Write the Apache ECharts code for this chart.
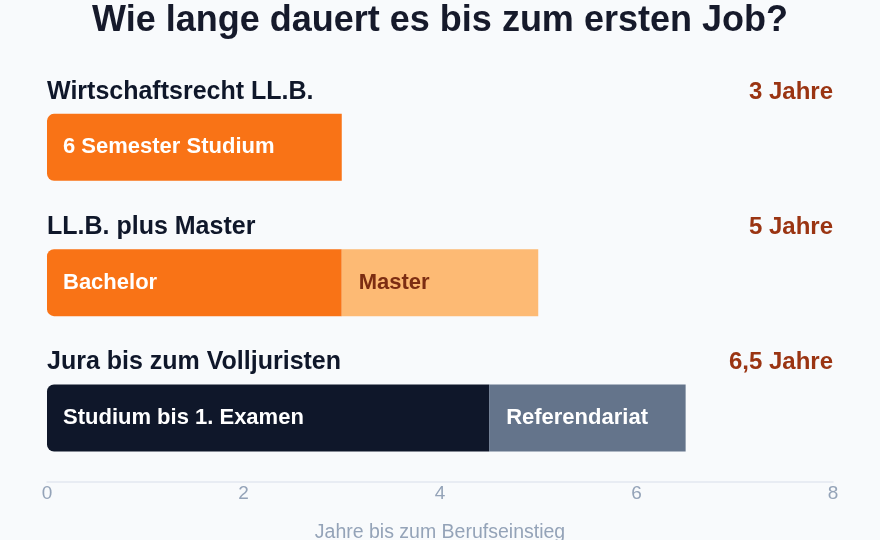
<!DOCTYPE html>
<html>
<head>
<meta charset="utf-8">
<style>
html,body{margin:0;padding:0;background:#f8fafc;}
#c{width:880px;height:540px;}
</style>
<script src="https://cdn.jsdelivr.net/npm/echarts@6/dist/echarts.min.js"></script>
</head>
<body>
<div id="c"></div>
<script>
const categories = ['Wirtschaftsrecht LL.B.', 'LL.B. plus Master', 'Jura bis zum Volljuristen'];
const totals = ['3 Jahre', '5 Jahre', '6,5 Jahre'];
const phase1 = [3, 3, 4.5];
const phase2 = [null, 2, 2];
const phase1Labels = ['6 Semester Studium', 'Bachelor', 'Studium bis 1. Examen'];
const phase2Labels = ['', 'Master', 'Referendariat'];
const xTicks = [0, 2, 4, 6, 8];

const phase1Colors = ['#f97316', '#f97316', '#0f172a'];
const phase2Colors = ['#fdba74', '#fdba74', '#64748b'];
const phase2LabelColors = ['#7c2d12', '#7c2d12', '#ffffff'];

const chart = echarts.init(document.getElementById('c'));
const font = 'Liberation Sans, Arial, sans-serif';

chart.setOption({
  backgroundColor: '#f8fafc',
  animation: false,
  title: {
    text: 'Wie lange dauert es bis zum ersten Job?',
    left: 'center',
    top: -1.5,
    textStyle: {fontFamily: font, fontSize: 36, fontWeight: 'bold', color: '#161a2b'}
  },
  grid: {left: 47, right: 47, top: 79.7, bottom: 540 - 485.6, outerBoundsMode: 'none'},
  xAxis: {
    type: 'value',
    min: xTicks[0], max: xTicks[xTicks.length - 1], interval: 2,
    offset: -4,
    axisLine: {show: true, lineStyle: {color: '#e2e8f0', width: 1.5}},
    axisTick: {show: false},
    splitLine: {show: false},
    axisLabel: {color: '#94a3b8', fontSize: 19, fontFamily: font, margin: 3},
    name: 'Jahre bis zum Berufseinstieg',
    nameLocation: 'middle',
    nameGap: 41.5,
    nameTextStyle: {color: '#94a3b8', fontSize: 19.5, fontFamily: font}
  },
  yAxis: [{
    type: 'category',
    data: categories,
    inverse: true,
    axisLine: {show: false},
    axisTick: {show: false},
    axisLabel: {
      inside: true, margin: 0, align: 'left', verticalAlign: 'bottom',
      padding: [0, 0, 43, 0],
      color: '#0f172a', fontSize: 25, fontWeight: 'bold', fontFamily: font
    }
  }, {
    type: 'category',
    data: totals,
    inverse: true,
    position: 'right',
    axisLine: {show: false},
    axisTick: {show: false},
    axisLabel: {
      inside: true, margin: 0, align: 'right', verticalAlign: 'bottom',
      padding: [0, 0, 43.2, 0],
      color: '#9a3412', fontSize: 24, fontWeight: 'bold', fontFamily: font
    }
  }],
  series: [{
    type: 'bar',
    stack: 'total',
    barWidth: 67,
    data: phase1.map((v, i) => ({
      value: v,
      itemStyle: {color: phase1Colors[i], borderRadius: [7, 0, 0, 7]}
    })),
    label: {
      show: true, position: 'insideLeft', distance: 16,
      formatter: p => phase1Labels[p.dataIndex],
      color: '#ffffff', fontSize: 22, fontWeight: 'bold', fontFamily: font
    }
  }, {
    type: 'bar',
    stack: 'total',
    barWidth: 67,
    data: phase2.map((v, i) => ({
      value: v === null ? '-' : v,
      itemStyle: {color: phase2Colors[i]},
      label: {color: phase2LabelColors[i]}
    })),
    label: {
      show: true, position: 'insideLeft', distance: 17,
      formatter: p => phase2Labels[p.dataIndex],
      fontSize: 22, fontWeight: 'bold', fontFamily: font
    }
  }]
});
</script>
</body>
</html>
